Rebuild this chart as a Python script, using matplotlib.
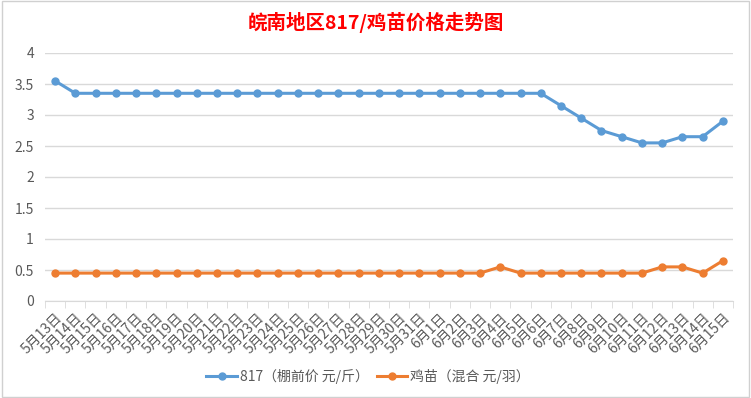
import matplotlib.pyplot as plt
from matplotlib.patches import Rectangle

plt.rcParams['font.family'] = ['Noto Sans CJK SC', 'DejaVu Sans']

dates = [f'5月{d}日' for d in range(13, 32)] + [f'6月{d}日' for d in range(1, 16)]
price_817 = [3.55] + [3.35] * 24 + [3.15, 2.95, 2.75, 2.65, 2.55, 2.55, 2.65, 2.65, 2.9]
price_chick = [0.45] * 22 + [0.55] + [0.45] * 7 + [0.55, 0.55, 0.45, 0.65]

blue = '#5B9BD5'
orange = '#ED7D31'
grid_c = '#D9D9D9'
text_c = '#595959'

fig = plt.figure(figsize=(7.51, 3.98), dpi=100)
ax = fig.add_axes([45 / 751, 1 - 301 / 398, 688 / 751, 248 / 398])

x = list(range(len(dates)))
ax.plot(x, price_817, color=blue, lw=2.2, marker='o', ms=5, label='817（棚前价 元/斤）')
ax.plot(x, price_chick, color=orange, lw=2.2, marker='o', ms=5, label='鸡苗（混合 元/羽）')

ax.set_xlim(-0.5, len(dates) - 0.5)
ax.set_ylim(0, 4)
ax.set_yticks([0, 0.5, 1, 1.5, 2, 2.5, 3, 3.5, 4])
ax.set_yticklabels(['0', '0.5', '1', '1.5', '2', '2.5', '3', '3.5', '4'])
ax.yaxis.grid(True, color=grid_c, lw=1)
ax.set_axisbelow(True)
for s in ['top', 'right', 'left']:
    ax.spines[s].set_visible(False)
ax.spines['bottom'].set_color(grid_c)

ax.set_xticks(x)
ax.set_xticklabels(dates, rotation=45, ha='right', va='top', rotation_mode='anchor',
                   fontsize=10, color=text_c)
ax.tick_params(axis='x', length=0, pad=7)
ax.set_xticks([i - 0.5 for i in range(len(dates) + 1)], minor=True)
ax.tick_params(axis='x', which='minor', length=5, color=grid_c)
ax.tick_params(axis='y', length=0, labelsize=10, labelcolor=text_c, pad=8)

fig.text(0.5, 1 - 22 / 398, '皖南地区817/鸡苗价格走势图', ha='center', va='center',
         fontsize=14, color='#FF0000', fontweight='bold')

fig.legend(loc='center', bbox_to_anchor=(0.49, 1 - 376 / 398), ncol=2, frameon=False,
           fontsize=10, labelcolor=text_c, handlelength=2.2, handletextpad=0.2,
           columnspacing=0.6)

fig.patches.append(Rectangle((0.003, 0.003), 0.994, 0.994, transform=fig.transFigure,
                             fill=False, ec='#D0D0D0', lw=1))

fig.savefig('out.png', dpi=100)
